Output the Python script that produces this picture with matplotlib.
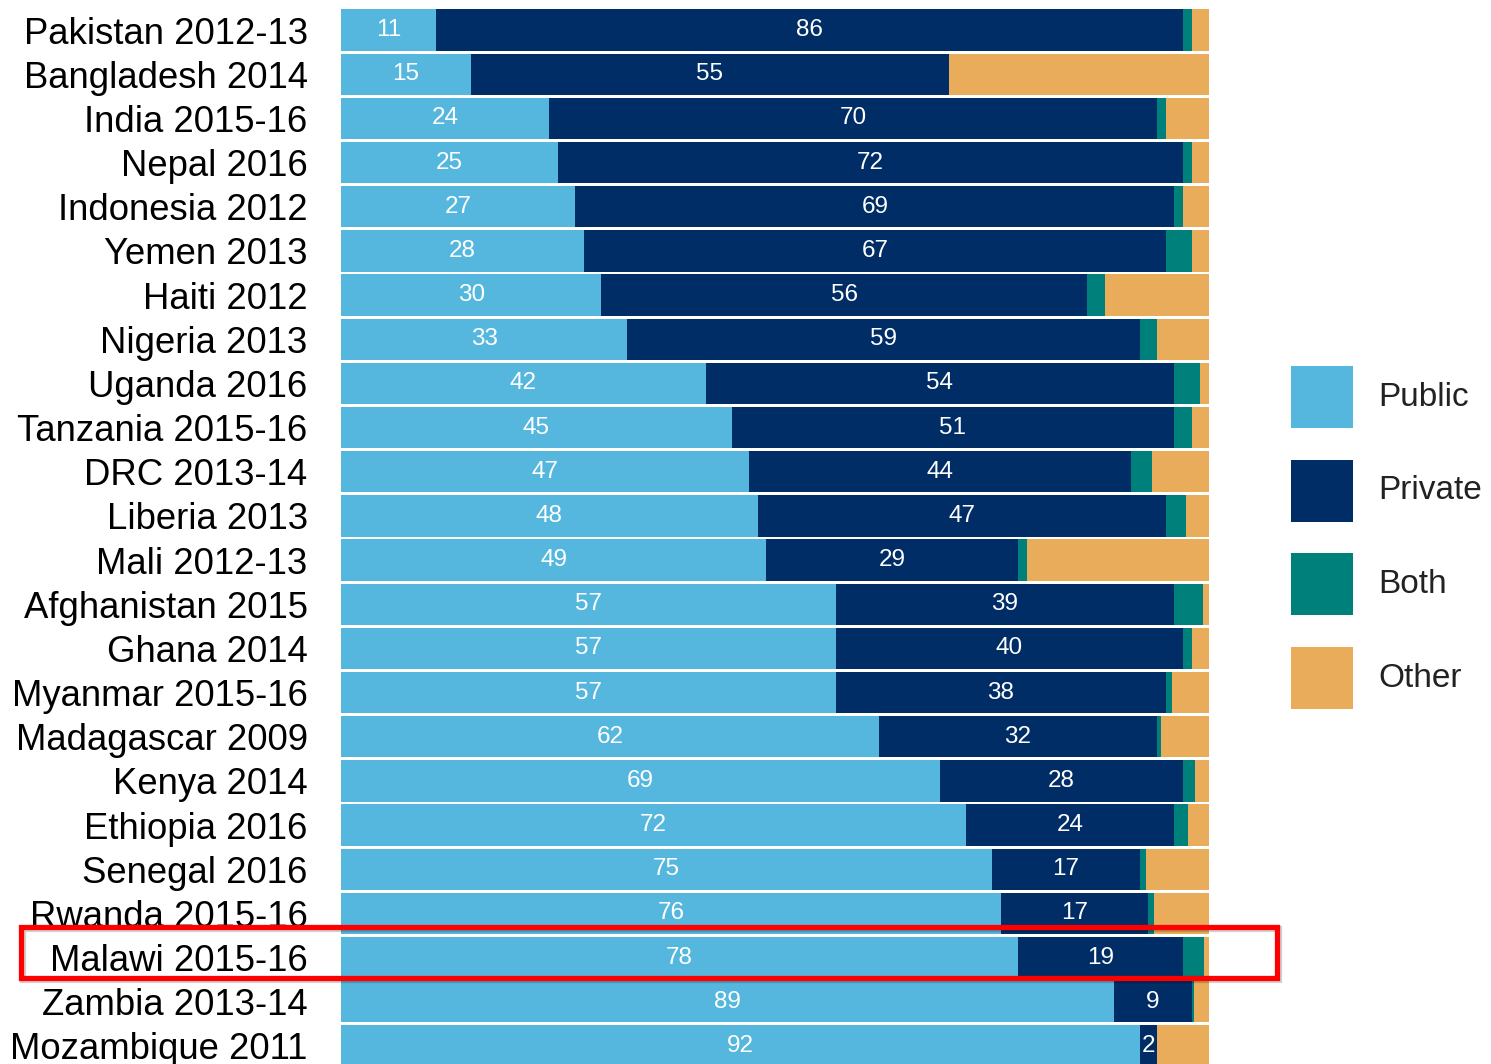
import matplotlib
matplotlib.use("Agg")
import matplotlib.pyplot as plt
from matplotlib.patches import Rectangle

plt.rcParams['font.family'] = ['Liberation Sans', 'DejaVu Sans']

countries = ["Pakistan 2012-13", "Bangladesh 2014", "India 2015-16", "Nepal 2016",
             "Indonesia 2012", "Yemen 2013", "Haiti 2012", "Nigeria 2013",
             "Uganda 2016", "Tanzania 2015-16", "DRC 2013-14", "Liberia 2013",
             "Mali 2012-13", "Afghanistan 2015", "Ghana 2014", "Myanmar 2015-16",
             "Madagascar 2009", "Kenya 2014", "Ethiopia 2016", "Senegal 2016",
             "Rwanda 2015-16", "Malawi 2015-16", "Zambia 2013-14", "Mozambique 2011"]
public = [11, 15, 24, 25, 27, 28, 30, 33, 42, 45, 47, 48, 49, 57, 57, 57, 62, 69, 72, 75, 76, 78, 89, 92]
private = [86, 55, 70, 72, 69, 67, 56, 59, 54, 51, 44, 47, 29, 39, 40, 38, 32, 28, 24, 17, 17, 19, 9, 2]
both = [1, 0, 1, 1, 1, 3, 2, 2, 3, 2, 2.4, 2.3, 1, 3.3, 1, 0.7, 0.5, 1.4, 1.6, 0.7, 0.7, 2.4, 0.3, 0]
other = [2, 30, 5, 2, 3, 2, 12, 6, 1, 2, 6.6, 2.7, 21, 0.7, 2, 4.3, 5.5, 1.6, 2.4, 7.3, 6.3, 0.6, 1.7, 6]

series_names = ["Public", "Private", "Both", "Other"]
colors = ["#55B7DE", "#002D65", "#00807A", "#E9AC5A"]
highlight = "Malawi 2015-16"

W, H = 1491, 1064
fig = plt.figure(figsize=(W / 100, H / 100), dpi=100)
fig.patch.set_facecolor("white")

# axes: bars span x 341..1209 px, rows from y 8..1068 px
ax = fig.add_axes([341 / W, (H - 1068) / H, (1209 - 341) / W, 1060 / H])
ax.set_xlim(0, 100)
n = len(countries)
ax.set_ylim(n - 0.5, -0.5)

ypos = list(range(n))
left = [0] * n
data = [public, private, both, other]
for name, vals, col in zip(series_names, data, colors):
    ax.barh(ypos, vals, left=left, height=0.935, color=col, edgecolor="none", label=name)
    if name in ("Public", "Private"):
        for i, (l, v) in enumerate(zip(left, vals)):
            if v > 0:
                ax.text(l + v / 2, i, f"{v:g}", ha="center", va="center",
                        color="white", fontsize=17.5)
    left = [a + b for a, b in zip(left, vals)]

ax.set_yticks(ypos)
ax.set_yticklabels(countries, fontsize=26.3)
ax.tick_params(axis="y", length=0, pad=24)
ax.set_xticks([])
for s in ax.spines.values():
    s.set_visible(False)

# legend (manual)
for k, (name, col) in enumerate(zip(series_names, colors)):
    top = 366 + k * 93.7
    fig.patches.append(Rectangle((1291 / W, (H - top - 62) / H), 62 / W, 62 / H,
                                 transform=fig.transFigure, facecolor=col,
                                 edgecolor="none"))
    fig.text(1378 / W, (H - top - 31) / H, name, fontsize=24, va="center",
             ha="left", color="#222222")

# highlight box around the highlighted row (with soft shadow)
x0, x1, y0, y1 = 20.5, 1276.5, 926.5, 977.5
shadow = Rectangle(((x0 + 2.5) / W, (H - y1 - 2.5) / H), (x1 - x0) / W, (y1 - y0) / H,
                   transform=fig.transFigure, facecolor="none", edgecolor="#000000",
                   alpha=0.18, linewidth=4.5)
fig.patches.append(shadow)
rect = Rectangle((x0 / W, (H - y1) / H), (x1 - x0) / W, (y1 - y0) / H,
                 transform=fig.transFigure, facecolor="none", edgecolor="#FF0000",
                 linewidth=3.8)
fig.patches.append(rect)

fig.savefig("out.png", dpi=100, facecolor="white")
